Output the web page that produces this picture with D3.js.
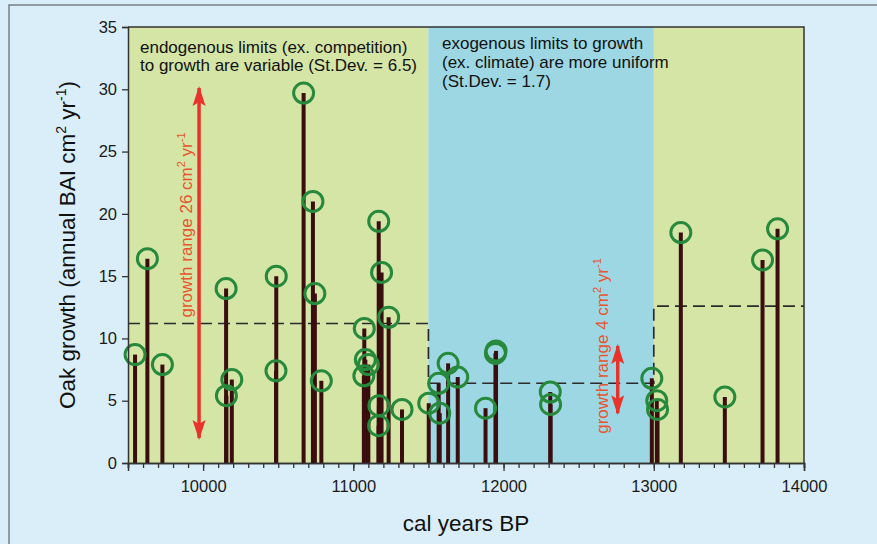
<!DOCTYPE html>
<html>
<head>
<meta charset="utf-8">
<script src="https://cdn.jsdelivr.net/npm/d3@7"></script>
<style>
  body { margin: 0; background: #daeef9; }
  svg { display: block; font-family: "Liberation Sans", Arial, sans-serif; }
</style>
</head>
<body>
<div id="chart"></div>
<script>
// dated oak samples: calendar year BP and annual basal area increment
const years = [9547, 9629, 9729, 10153, 10155, 10191, 10487, 10485, 10669, 10731,
  10744, 10787, 11073, 11080, 11070, 11100, 11169, 11188, 11170, 11168,
  11235, 11324, 11502, 11568, 11575, 11631, 11695, 11880, 11946, 11950,
  12311, 12313, 12987, 13020, 13025, 13180, 13473, 13724, 13824]
const growth = [8.7, 16.4, 7.9, 14.0, 5.4, 6.7, 15.0, 7.4, 29.7, 21.0,
  13.6, 6.6, 10.8, 8.3, 7.0, 7.9, 19.4, 15.3, 4.6, 3.0,
  11.7, 4.3, 4.8, 6.4, 4.0, 8.0, 6.9, 4.4, 8.8, 9.0,
  5.7, 4.7, 6.8, 5.0, 4.3, 18.5, 5.3, 16.3, 18.8]

// periods and their mean growth (dashed line)
const zoneStart = [9500, 11500, 13000]
const zoneEnd = [11500, 13000, 14000]
const zoneType = ['endo', 'exo', 'endo']
const zoneMean = [11.2, 6.4, 12.6]

const xTicks = [10000, 11000, 12000, 13000, 14000]
const yTicks = [0, 5, 10, 15, 20, 25, 30, 35]

// growth range arrows
const rangeYear = [9973, 12760]
const rangeLow = [2.0, 4.0]
const rangeHigh = [30.1, 9.4]
const rangeText = ['26', '4']

const width = 877, height = 544
const margin = { top: 27, right: 73, bottom: 81, left: 128 }

const svg = d3.select('#chart').append('svg')
  .attr('width', width).attr('height', height)

svg.append('rect').attr('width', width).attr('height', height).attr('fill', '#daeef9')
svg.append('path').attr('d', `M9,${height} V5 H${width}`)
  .attr('fill', 'none').attr('stroke', '#7a7f84').attr('stroke-width', 1.5)

const x = d3.scaleLinear().domain([9500, 14000]).range([margin.left, width - margin.right])
const y = d3.scaleLinear().domain([0, 35]).range([height - margin.bottom, margin.top])

const zoneColor = { endo: '#d4e5a6', exo: '#9dd7e3' }

const g = svg.append('g')

g.selectAll('.zone').data(zoneStart).enter().append('rect')
  .attr('class', 'zone')
  .attr('x', (d) => x(d))
  .attr('y', y(35))
  .attr('width', (d, i) => x(zoneEnd[i]) - x(d))
  .attr('height', y(0) - y(35))
  .attr('fill', (d, i) => zoneColor[zoneType[i]])

// dashed step line of period means
let steps = []
zoneStart.forEach((s, i) => {
  steps.push([s, zoneMean[i]])
  steps.push([zoneEnd[i], zoneMean[i]])
})
g.append('path')
  .attr('d', d3.line().x((d) => x(d[0])).y((d) => y(d[1]))(steps))
  .attr('fill', 'none')
  .attr('stroke', '#2b2b2b')
  .attr('stroke-width', 1.7)
  .attr('stroke-dasharray', '12,6')

// frame
g.append('path')
  .attr('d', `M${x(9500)},${y(35)} H${x(14000)} V${y(0)}`)
  .attr('fill', 'none').attr('stroke', '#333').attr('stroke-width', 1.5)

// stems
const pts = years.map((yr, i) => ({ yr: yr, v: growth[i] }))
g.selectAll('.stem').data(pts).enter().append('line')
  .attr('class', 'stem')
  .attr('x1', (d) => x(d.yr)).attr('x2', (d) => x(d.yr))
  .attr('y1', y(0)).attr('y2', (d) => y(d.v))
  .attr('stroke', '#3a0d0f')
  .attr('stroke-width', 4)

g.selectAll('.ring').data(pts).enter().append('circle')
  .attr('class', 'ring')
  .attr('cx', (d) => x(d.yr)).attr('cy', (d) => y(d.v))
  .attr('r', 10)
  .attr('fill', 'none')
  .attr('stroke', '#26893b')
  .attr('stroke-width', 3)

// axes
const xAxisMinor = d3.axisBottom(x).tickValues(d3.range(9500, 14001, 100)).tickSize(5).tickFormat('')
const xAxis = d3.axisBottom(x).tickValues(xTicks).tickSize(8).tickPadding(9).tickFormat(d3.format('d'))
const yAxis = d3.axisLeft(y).tickValues(yTicks).tickSize(6).tickPadding(5)

const styleAxis = (sel) => {
  sel.select('.domain').attr('stroke', '#333').attr('stroke-width', 1.5)
  sel.selectAll('.tick line').attr('stroke', '#333').attr('stroke-width', 1.3)
  sel.selectAll('.tick text').attr('fill', '#1a1a1a').style('font-size', '16.5px')
    .style('font-family', '"Liberation Sans", Arial, sans-serif')
}

svg.append('g').attr('transform', `translate(0,${y(0)})`).call(xAxisMinor).call(styleAxis)
svg.append('g').attr('transform', `translate(0,${y(0)})`).call(xAxis).call(styleAxis)
svg.append('g').attr('transform', `translate(${x(9500)},0)`).call(yAxis).call(styleAxis)

// axis titles
svg.append('text')
  .attr('x', (x(9500) + x(14000)) / 2).attr('y', 531)
  .attr('text-anchor', 'middle')
  .style('font-size', '22.5px').attr('fill', '#111')
  .text('cal years BP')

const yt = svg.append('text')
  .attr('transform', `translate(75,${(y(0) + y(35)) / 2}) rotate(-90)`)
  .attr('text-anchor', 'middle')
  .style('font-size', '22.5px').attr('fill', '#111')
yt.append('tspan').text('Oak growth (annual BAI cm')
yt.append('tspan').attr('dy', -9).style('font-size', '14px').text('2')
yt.append('tspan').attr('dy', 9).text(' yr')
yt.append('tspan').attr('dy', -9).style('font-size', '14px').text('-1')
yt.append('tspan').attr('dy', 9).text(')')

// notes
const note = (lines, x0, y0, lead) => {
  const t = svg.append('text').style('font-size', '17px').attr('fill', '#111')
  lines.forEach((l, i) => {
    t.append('tspan').attr('x', x0).attr('y', y0 + i * lead).text(l)
  })
}
note(['endogenous limits (ex. competition)', 'to growth are variable (St.Dev. = 6.5)'], 140, 53, 18)
note(['exogenous limits to growth', '(ex. climate) are more uniform', '(St.Dev. = 1.7)'], 442, 49, 19)

// range arrows
const defs = svg.append('defs')
defs.append('marker')
  .attr('id', 'head')
  .attr('markerUnits', 'userSpaceOnUse')
  .attr('viewBox', '0 -7 20 14')
  .attr('refX', 18).attr('refY', 0)
  .attr('markerWidth', 20).attr('markerHeight', 14)
  .attr('orient', 'auto-start-reverse')
  .append('path')
  .attr('d', 'M0,-6.5 L20,0 L0,6.5 L4,0 Z')
  .attr('fill', '#e8332a')

rangeYear.forEach((yr, i) => {
  svg.append('line')
    .attr('x1', x(yr)).attr('x2', x(yr))
    .attr('y1', y(rangeLow[i])).attr('y2', y(rangeHigh[i]))
    .attr('stroke', '#e8332a').attr('stroke-width', 3.5)
    .attr('marker-start', 'url(#head)').attr('marker-end', 'url(#head)')
})

const labelPos = [[192, 225], [608, 346]]
rangeText.forEach((r, i) => {
  const t = svg.append('text')
    .attr('transform', `translate(${labelPos[i][0]},${labelPos[i][1]}) rotate(-90)`)
    .attr('text-anchor', 'middle')
    .style('font-size', '17px').attr('fill', '#e8542e')
  t.append('tspan').text(`growth range ${r} cm`)
  t.append('tspan').attr('dy', -7).style('font-size', '11px').text('2')
  t.append('tspan').attr('dy', 7).text(' yr')
  t.append('tspan').attr('dy', -7).style('font-size', '11px').text('-1')
})
</script>
</body>
</html>
